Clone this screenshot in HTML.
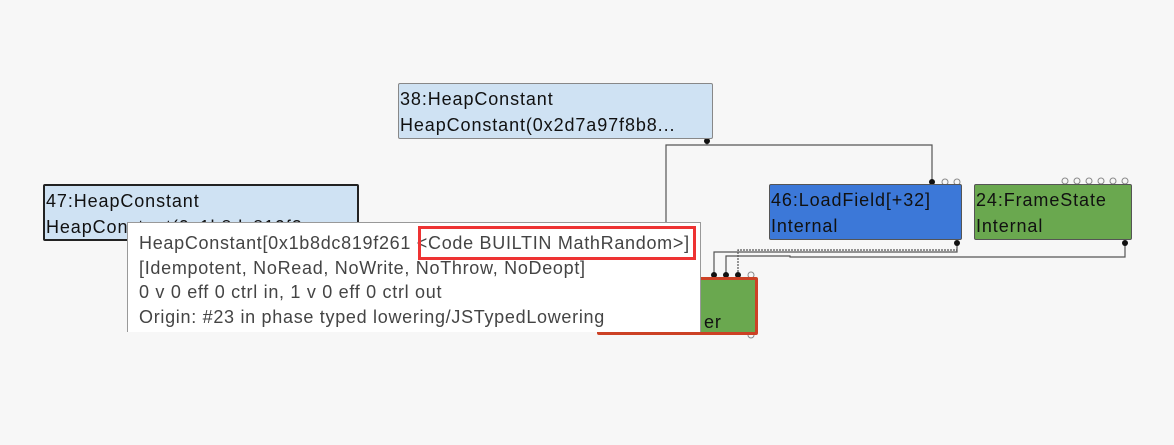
<!DOCTYPE html>
<html><head><style>
body{margin:0;width:1174px;height:445px;background:#f7f7f7;position:relative;overflow:hidden;font-family:"Liberation Sans",sans-serif;}
.n{position:absolute;box-sizing:border-box;font-size:18px;letter-spacing:0.9px;line-height:26px;padding:2px 1px;color:#111;white-space:nowrap;overflow:hidden;border-radius:2px}
</style></head><body>
<svg width="1174" height="445" style="position:absolute;left:0;top:0">
<g fill="none" stroke="#555" stroke-width="1.2">
<polyline points="707,141 707,145"/>
<polyline points="666,230 666,145 932,145 932,182"/>
<polyline points="957,243 957,252 714,252 714,275"/>
<polyline points="1125,243 1125,257 790,257 790,256 726,256 726,275"/>
<polyline points="738,275 738,250 957,250" stroke-dasharray="2,1"/>
</g>
<g fill="#111"><circle cx="707" cy="141" r="3"/><circle cx="932" cy="182" r="3"/><circle cx="957" cy="243" r="3"/><circle cx="1125" cy="243" r="3"/><circle cx="714" cy="275" r="3"/><circle cx="726" cy="275" r="3"/><circle cx="738" cy="275" r="3"/></g>
<g fill="none" stroke="#888"><circle cx="945" cy="182" r="3"/><circle cx="957" cy="182" r="3"/>
<circle cx="1065" cy="181" r="3"/><circle cx="1077" cy="181" r="3"/><circle cx="1089" cy="181" r="3"/><circle cx="1101" cy="181" r="3"/><circle cx="1113" cy="181" r="3"/><circle cx="1125" cy="181" r="3"/>
<circle cx="751" cy="275" r="3"/><circle cx="751" cy="335" r="3"/></g>
</svg>
<div class="n" style="left:398px;top:83px;width:315px;height:56px;background:#cfe2f3;border:1px solid #888">38:HeapConstant<br>HeapConstant(0x2d7a97f8b8...</div>
<div class="n" style="left:43px;top:184px;width:316px;height:57px;background:#cfe2f3;border:2px solid #222">47:HeapConstant<br>HeapConstant(0x1b8dc819f2...</div>
<div class="n" style="left:769px;top:184px;width:193px;height:56px;background:#3c78d8;border:1px solid #555">46:LoadField[+32]<br>Internal</div>
<div class="n" style="left:974px;top:184px;width:158px;height:56px;background:#6aa84f;border:1px solid #555">24:FrameState<br>Internal</div>
<div class="n" style="left:597px;top:277px;width:161px;height:58px;background:#6aa84f;border:3px solid #cc4125;padding-left:104px;padding-top:29px">er</div>
<div style="position:absolute;left:127px;top:222px;width:574px;height:110px;background:#fff;border:1px solid #999;border-bottom:none;box-sizing:border-box;font-size:18px;letter-spacing:0.7px;line-height:24.5px;color:#444;padding:8px 0 0 11px;white-space:nowrap">HeapConstant[0x1b8dc819f261 &lt;Code BUILTIN MathRandom&gt;]<br>[Idempotent, NoRead, NoWrite, NoThrow, NoDeopt]<br>0 v 0 eff 0 ctrl in, 1 v 0 eff 0 ctrl out<br>Origin: #23 in phase typed lowering/JSTypedLowering</div>
<div style="position:absolute;left:418px;top:226px;width:278px;height:34px;border:3px solid #e33;box-sizing:border-box"></div>
</body></html>
